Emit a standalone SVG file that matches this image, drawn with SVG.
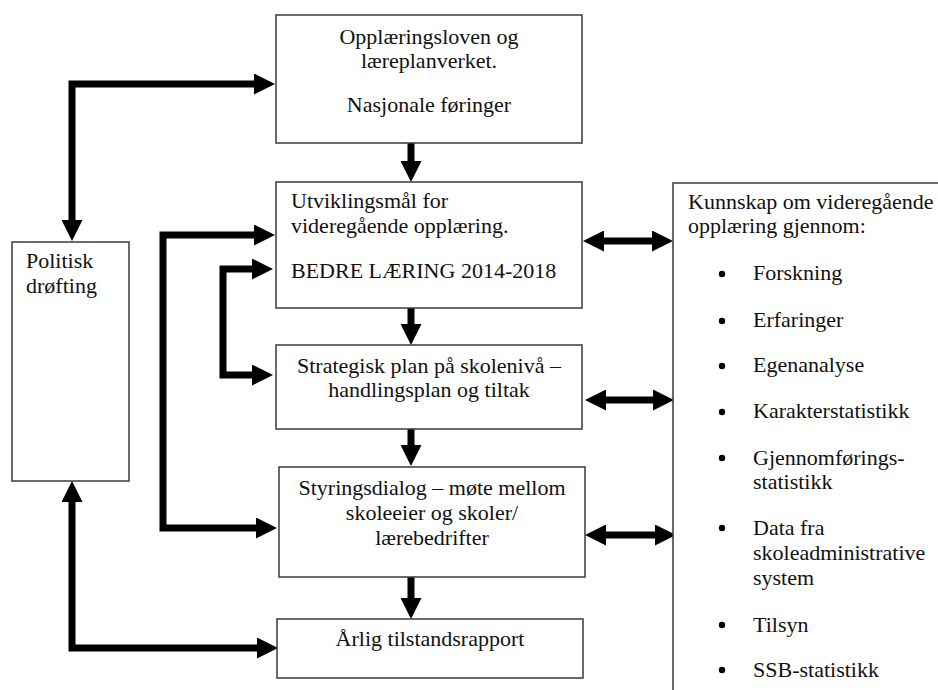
<svg xmlns="http://www.w3.org/2000/svg" width="938" height="690" viewBox="0 0 938 690">
<style>
.box{fill:#fff;stroke:#3a3a3a;stroke-width:1.5}
.t{font-family:"Liberation Serif","Times New Roman",serif;font-size:22px;fill:#111}
.c{text-anchor:middle}
.con{fill:none;stroke:#000;stroke-width:7;stroke-linejoin:miter}
</style>
<defs>
<marker id="ah" markerUnits="userSpaceOnUse" viewBox="0 0 21 21" markerWidth="21" markerHeight="21" refX="0" refY="10.5" orient="auto-start-reverse">
<path d="M0,0 L21,10.5 L0,21 z" fill="#000"/>
</marker>
</defs>
<rect width="938" height="690" fill="#fff"/>
<g id="connectors">
<path class="con" d="M72,220 L72,84 L254,84" marker-start="url(#ah)" marker-end="url(#ah)"/>
<path class="con" d="M254,235 L163,235 L163,528 L256,528" marker-start="url(#ah)" marker-end="url(#ah)"/>
<path class="con" d="M252,269 L223,269 L223,375 L252,375" marker-start="url(#ah)" marker-end="url(#ah)"/>
<path class="con" d="M72,502 L72,648 L257,648" marker-start="url(#ah)" marker-end="url(#ah)"/>
<path class="con" d="M411,143 L411,161" marker-end="url(#ah)"/>
<path class="con" d="M411,308 L411,324" marker-end="url(#ah)"/>
<path class="con" d="M411,429 L411,445" marker-end="url(#ah)"/>
<path class="con" d="M411,577 L411,598" marker-end="url(#ah)"/>
<path class="con" d="M604,241 L652,241" marker-start="url(#ah)" marker-end="url(#ah)"/>
<path class="con" d="M606,400 L653,400" marker-start="url(#ah)" marker-end="url(#ah)"/>
<path class="con" d="M606,535 L655,535" marker-start="url(#ah)" marker-end="url(#ah)"/>
</g>
<g id="n-opplaering">
<rect class="box" x="276" y="15" width="306" height="128"/>
<text class="t c" x="429" y="44">Opplæringsloven og</text>
<text class="t c" x="429" y="68">læreplanverket.</text>
<text class="t c" x="429" y="112">Nasjonale føringer</text>
</g>
<g id="n-utvikling">
<rect class="box" x="276" y="182" width="306" height="126"/>
<text class="t" x="291" y="208">Utviklingsmål for</text>
<text class="t" x="291" y="233">videregående opplæring.</text>
<text class="t" x="291" y="278">BEDRE LÆRING 2014-2018</text>
</g>
<g id="n-strategisk">
<rect class="box" x="276" y="345" width="306" height="84"/>
<text class="t c" x="429" y="373">Strategisk plan på skolenivå –</text>
<text class="t c" x="429" y="397">handlingsplan og tiltak</text>
</g>
<g id="n-styring">
<rect class="box" x="279" y="467" width="306" height="110"/>
<text class="t c" x="432" y="495">Styringsdialog – møte mellom</text>
<text class="t c" x="432" y="520">skoleeier og skoler/</text>
<text class="t c" x="432" y="545">lærebedrifter</text>
</g>
<g id="n-aarlig">
<rect class="box" x="277" y="619" width="306" height="59"/>
<text class="t c" x="430" y="646">Årlig tilstandsrapport</text>
</g>
<g id="n-politisk">
<rect class="box" x="12" y="242" width="117" height="239"/>
<text class="t" x="26" y="268">Politisk</text>
<text class="t" x="26" y="293">drøfting</text>
</g>
<g id="n-kunnskap">
<rect class="box" x="673" y="183" width="280" height="520"/>
<text class="t" x="688" y="209">Kunnskap om videregående</text>
<text class="t" x="688" y="233">opplæring gjennom:</text>
<g fill="#000">
<circle cx="722" cy="274" r="3.2"/>
<circle cx="722" cy="321" r="3.2"/>
<circle cx="722" cy="366" r="3.2"/>
<circle cx="722" cy="412" r="3.2"/>
<circle cx="722" cy="458" r="3.2"/>
<circle cx="722" cy="528" r="3.2"/>
<circle cx="722" cy="625" r="3.2"/>
<circle cx="722" cy="670" r="3.2"/>
</g>
<text class="t" x="753" y="280">Forskning</text>
<text class="t" x="753" y="327">Erfaringer</text>
<text class="t" x="753" y="372">Egenanalyse</text>
<text class="t" x="753" y="418">Karakterstatistikk</text>
<text class="t" x="753" y="465">Gjennomførings-</text>
<text class="t" x="753" y="489">statistikk</text>
<text class="t" x="753" y="535">Data fra</text>
<text class="t" x="753" y="560">skoleadministrative</text>
<text class="t" x="753" y="585">system</text>
<text class="t" x="753" y="632">Tilsyn</text>
<text class="t" x="753" y="677">SSB-statistikk</text>
</g>
</svg>
